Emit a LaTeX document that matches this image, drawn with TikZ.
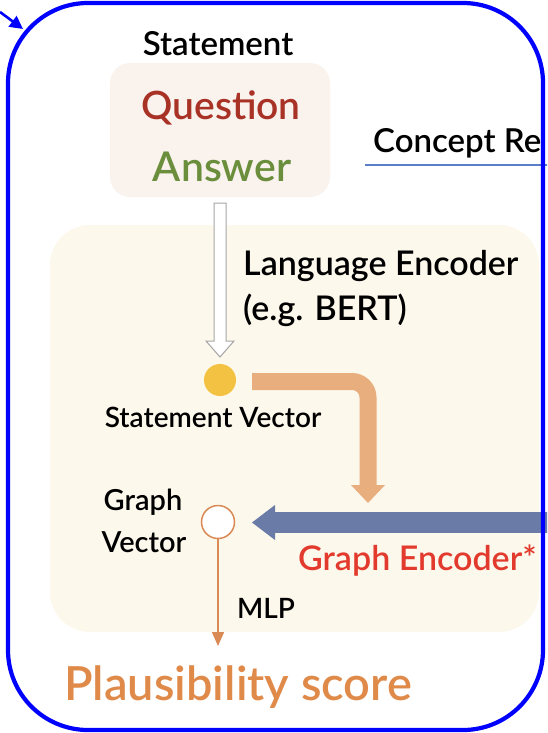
\documentclass[tikz,border=0pt]{standalone}
\usepackage{fontspec}
\setmainfont{Lato Semibold}
\usetikzlibrary{arrows.meta}
\definecolor{bord}{HTML}{0000FF}
\definecolor{pinkbg}{HTML}{F9F2ED}
\definecolor{cream}{HTML}{FDF8EC}
\definecolor{qred}{HTML}{A93226}
\definecolor{agreen}{HTML}{6B8E3D}
\definecolor{vyellow}{HTML}{F4C242}
\definecolor{oarrow}{HTML}{E9AE7E}
\definecolor{ocircle}{HTML}{D98A55}
\definecolor{barrow}{HTML}{6A7BA8}
\definecolor{gered}{HTML}{E33A2E}
\definecolor{plaus}{HTML}{E08A4A}
\definecolor{uline}{HTML}{5A7EC8}
\tikzset{
  txt/.style={inner sep=0pt, anchor=base},
  txtw/.style={inner sep=0pt, anchor=base west},
}
\begin{document}
\begin{tikzpicture}[x=1pt,y=-1pt]
\useasboundingbox (0,0) rectangle (547,733);
\begin{scope}
\clip (0,0) rectangle (547,733);
% backgrounds
\fill[cream, rounded corners=40] (50,225) rectangle (539,632);
\fill[pinkbg, rounded corners=20] (110,63) rectangle (330,197);
% texts
\node[txt] (stmt) at (218,56) {\fontsize{33}{33}\selectfont Statement};
\node[txt, text=qred] (q) at (221,120) {\fontsize{39}{39}\selectfont Question};
\node[txt, text=agreen] (a) at (222,181) {\fontsize{41}{41}\selectfont Answer};
\node[txtw] (concept) at (373,153) {\fontsize{33}{33}\selectfont Concept Re};
\draw[uline, line width=2.6] (365,165) coordinate (ul1) -- (560,165) coordinate (ul2);
\node[txtw] (le1) at (243,275) {\fontsize{34}{34}\selectfont Language Encoder};
\node[txtw] (le2) at (243,320) {\fontsize{34}{34}\selectfont (e.g. BERT)};
% hollow arrow
\draw[gray!70, fill=white, line width=1] (214,203) -- (226,203) -- (226,341) -- (234,341) -- (220,357) -- (206,341) -- (214,341) -- cycle;
% statement vector
\node[circle, fill=vyellow, minimum size=32pt, inner sep=0pt] (sv) at (220,380) {};
\node[txt] (svl) at (213,427) {\fontsize{28}{28}\selectfont Statement Vector};
% orange bent arrow
\draw[oarrow, line width=17, rounded corners=16] (252,381.5) -- (368,381.5) -- (368,486);
\fill[oarrow] (351,485) -- (385,485) -- (368,503) -- cycle;
% graph vector
\node[circle, draw=ocircle, fill=white, line width=1.5, minimum size=33pt, inner sep=0pt] (gv) at (218,522) {};
\node[txt] (g1) at (143,510) {\fontsize{29}{29}\selectfont Graph};
\node[txt] (g2) at (144,552) {\fontsize{29}{29}\selectfont Vector};
% blue arrow
\draw[barrow, line width=21] (560,522.5) coordinate (bstart) -- (274,522.5) coordinate (bend);
\fill[barrow] (275,505) -- (275,540) -- (252,522.5) -- cycle;
\node[txtw, text=gered] (ge) at (298,570) {\fontsize{34}{34}\selectfont Graph Encoder*};
% MLP
\coordinate (ps) at (218,646);
\draw[ocircle, line width=1.5, -{Triangle[width=12pt,length=14pt]}] (gv.south) -- (ps);
\node[txtw] (mlp) at (237,618) {\fontsize{28}{28}\selectfont MLP};
\node[txt, text=plaus] (pl) at (238,700) {\fontsize{47}{47}\selectfont Plausibility score};
% border
\draw[bord, line width=4.2, rounded corners=80] (8,3) rectangle (543,730);
\coordinate (sa) at (0,12);
\coordinate (sb) at (23,29);
\draw[bord, line width=2.6, -{Triangle[width=13pt,length=13pt]}] (sa) -- (sb);
\end{scope}
\end{tikzpicture}
\end{document}
